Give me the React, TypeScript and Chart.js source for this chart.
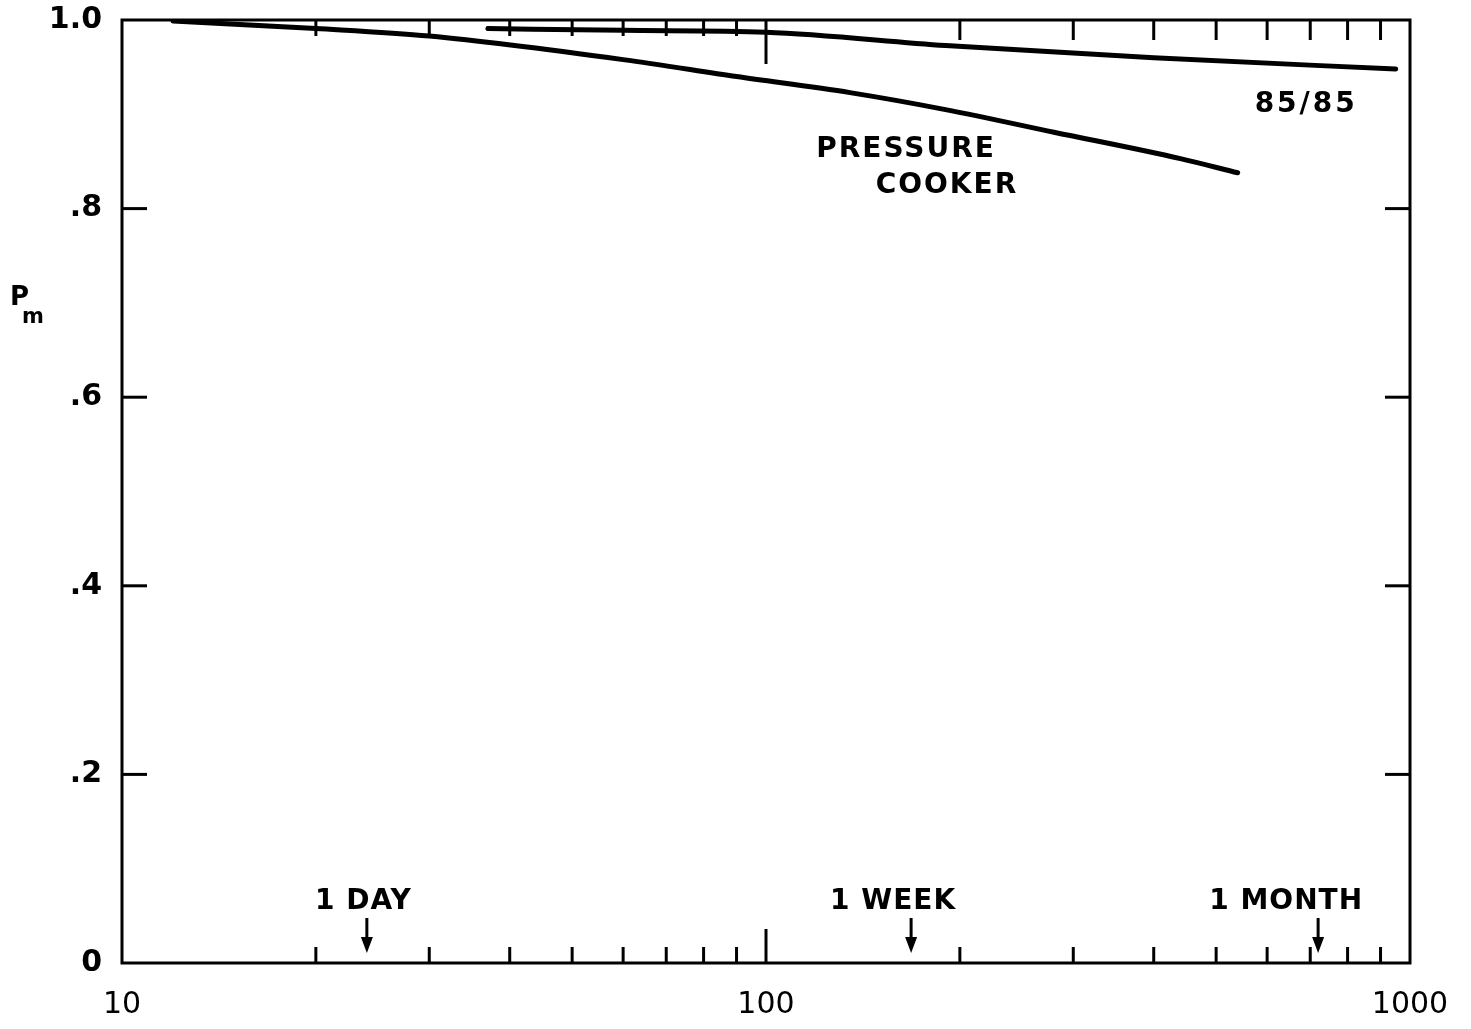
import React, { useEffect, useRef } from "react";
import { Chart, registerables } from "chart.js";

Chart.register(...registerables);

// Probability of survival Pm versus test time (hours), log time axis
const hoursPressureCooker = [12, 20, 30, 60, 90, 135, 190, 280, 440, 540];
const pmPressureCooker = [0.999, 0.991, 0.983, 0.958, 0.94, 0.923, 0.905, 0.881, 0.853, 0.838];

const hours8585 = [37, 60, 100, 190, 400, 950];
const pm8585 = [0.991, 0.989, 0.987, 0.973, 0.96, 0.948];

// Axis ticks
const xTickValues = [10, 100, 1000];
const yTickValues = [0, 0.2, 0.4, 0.6, 0.8, 1.0];
const yTickLabels = ["0", ".2", ".4", ".6", ".8", "1.0"];
const minorHourTicks = [20, 30, 40, 50, 60, 70, 80, 90, 200, 300, 400, 500, 600, 700, 800, 900];
const majorHourTicks = [100];
const innerPmTicks = [0.2, 0.4, 0.6, 0.8];

// Calendar markers along the time axis
const markerLabels = ["1 DAY", "1 WEEK", "1 MONTH"];
const markerHours = [24, 168, 720];

// Curve annotations (anchored in data coordinates)
const curveLabels = ["PRESSURE", "COOKER", "85/85"];
const curveLabelHours = [165, 191, 690];
const curveLabelPm = [0.862, 0.824, 0.91];

const FONT = '"DejaVu Sans", sans-serif';

const decorPlugin = {
  id: "decor",
  afterDatasetsDraw(chart: any) {
    const { ctx, chartArea: a, scales } = chart;
    const x = scales.x;
    const y = scales.y;
    ctx.save();
    ctx.strokeStyle = "#000";
    ctx.fillStyle = "#000";
    ctx.lineCap = "butt";

    // frame
    ctx.lineWidth = 3;
    ctx.strokeRect(a.left, a.top, a.right - a.left, a.bottom - a.top);

    const seg = (x1: number, y1: number, x2: number, y2: number) => {
      ctx.beginPath();
      ctx.moveTo(x1, y1);
      ctx.lineTo(x2, y2);
      ctx.stroke();
    };

    // inward tick marks on time axis (bottom and top)
    ctx.lineWidth = 3;
    minorHourTicks.forEach((h) => {
      const px = x.getPixelForValue(h);
      seg(px, a.bottom, px, a.bottom - 16);
      seg(px, a.top, px, a.top + (h < 100 ? 16 : 20));
    });
    majorHourTicks.forEach((h) => {
      const px = x.getPixelForValue(h);
      seg(px, a.bottom, px, a.bottom - 34);
      seg(px, a.top, px, a.top + 44);
    });

    // inward tick marks on Pm axis (left and right)
    innerPmTicks.forEach((v) => {
      const py = y.getPixelForValue(v);
      seg(a.left, py, a.left + 25, py);
      seg(a.right - 25, py, a.right, py);
    });

    // calendar arrows with labels
    markerHours.forEach((h, i) => {
      const px = x.getPixelForValue(h);
      const top = a.bottom - 45;
      const tip = a.bottom - 10;
      ctx.lineWidth = 3;
      seg(px, top, px, tip - 12);
      ctx.beginPath();
      ctx.moveTo(px - 6, tip - 16);
      ctx.lineTo(px + 6, tip - 16);
      ctx.lineTo(px, tip);
      ctx.closePath();
      ctx.fill();

      ctx.font = `bold 28px ${FONT}`;
      (ctx as any).letterSpacing = "1px";
      ctx.textAlign = "right";
      ctx.textBaseline = "middle";
      ctx.fillText(markerLabels[i], px + 45, top - 16);
    });

    // curve annotations
    ctx.textAlign = "center";
    ctx.textBaseline = "middle";
    curveLabels.forEach((t, i) => {
      ctx.font = `bold 28px ${FONT}`;
      (ctx as any).letterSpacing = t === "85/85" ? "3px" : "2px";
      ctx.fillText(t, x.getPixelForValue(curveLabelHours[i]), y.getPixelForValue(curveLabelPm[i]));
    });

    // axis title Pm
    (ctx as any).letterSpacing = "0px";
    ctx.textAlign = "left";
    ctx.textBaseline = "alphabetic";
    ctx.font = `bold 26px ${FONT}`;
    ctx.fillText("P", 10, 305);
    ctx.font = `bold 21px ${FONT}`;
    ctx.fillText("m", 22, 323);

    ctx.restore();
  },
};

export default function App() {
  const canvasRef = useRef<HTMLCanvasElement | null>(null);

  useEffect(() => {
    const canvas = canvasRef.current;
    if (!canvas) return;
    const chart = new Chart(canvas, {
      type: "line",
      data: {
        datasets: [
          {
            label: "PRESSURE COOKER",
            data: hoursPressureCooker.map((h, i) => ({ x: h, y: pmPressureCooker[i] })),
            borderColor: "#000",
            borderWidth: 5,
            pointRadius: 0,
            fill: false,
            cubicInterpolationMode: "monotone",
            borderCapStyle: "round",
          },
          {
            label: "85/85",
            data: hours8585.map((h, i) => ({ x: h, y: pm8585[i] })),
            borderColor: "#000",
            borderWidth: 5,
            pointRadius: 0,
            fill: false,
            cubicInterpolationMode: "monotone",
            borderCapStyle: "round",
          },
        ],
      },
      options: {
        animation: false,
        responsive: true,
        maintainAspectRatio: false,
        layout: { padding: { top: 20, right: 61, left: 0, bottom: 0 } },
        plugins: { legend: { display: false }, tooltip: { enabled: false } },
        scales: {
          x: {
            type: "logarithmic",
            min: 10,
            max: 1000,
            grid: { display: false, drawTicks: false },
            border: { display: false },
            afterBuildTicks: (s: any) => {
              s.ticks = xTickValues.map((v) => ({ value: v }));
            },
            afterFit: (s: any) => {
              s.height = 66;
              s.paddingLeft = 0;
              s.paddingRight = 0;
            },
            ticks: {
              autoSkip: false,
              maxRotation: 0,
              padding: 24,
              color: "#000",
              font: { family: FONT, size: 30 },
              callback: (v: any) => String(v),
            },
          },
          y: {
            min: 0,
            max: 1,
            grid: { display: false, drawTicks: false },
            border: { display: false },
            afterBuildTicks: (s: any) => {
              s.ticks = yTickValues.map((v) => ({ value: v }));
            },
            afterFit: (s: any) => {
              s.width = 122;
              s.paddingTop = 0;
              s.paddingBottom = 0;
            },
            ticks: {
              autoSkip: false,
              padding: 20,
              color: "#000",
              font: { family: FONT, size: 30, weight: "bold" },
              callback: (_v: any, i: number) => yTickLabels[i],
            },
          },
        },
      },
      plugins: [decorPlugin],
    } as any);
    return () => chart.destroy();
  }, []);

  return (
    <div
      style={{
        position: "fixed",
        left: 0,
        top: 0,
        width: 1471,
        height: 1029,
        background: "#fff",
      }}
    >
      <canvas ref={canvasRef} />
    </div>
  );
}
